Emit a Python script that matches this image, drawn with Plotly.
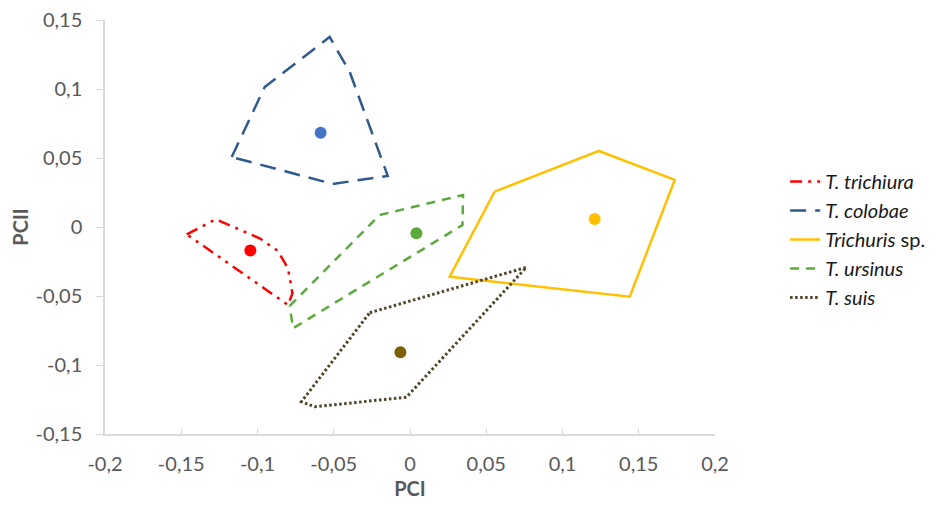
import plotly.graph_objects as go

# ---- data ----
trichiura_x = [-0.1464, -0.1274, -0.0986, -0.0866, -0.0800, -0.0771, -0.0800]
trichiura_y = [-0.0053, 0.0056, -0.0082, -0.0174, -0.0300, -0.0481, -0.0565]
trichiura_c = (-0.1047, -0.0171)

colobae_x = [-0.1169, -0.0953, -0.0527, -0.0395, -0.0146, -0.0507]
colobae_y = [0.0507, 0.1014, 0.1377, 0.1123, 0.0370, 0.0312]
colobae_c = (-0.0586, 0.0683)

sp_x = [0.0555, 0.1239, 0.1736, 0.1441, 0.0260]
sp_y = [0.0256, 0.0551, 0.0341, -0.0505, -0.0360]
sp_c = (0.1211, 0.0058)

ursinus_x = [-0.0789, -0.0199, 0.0348, 0.0344, -0.0767]
ursinus_y = [-0.0572, 0.0087, 0.0232, 0.0014, -0.0734]
ursinus_c = (0.0042, -0.0046)

suis_x = [-0.0264, 0.0763, -0.0024, -0.0625, -0.0712]
suis_y = [-0.0621, -0.0292, -0.1234, -0.1302, -0.1266]
suis_c = (-0.0063, -0.0908)

x_ticks = [-0.2, -0.15, -0.1, -0.05, 0, 0.05, 0.1, 0.15, 0.2]
x_labels = ["-0,2", "-0,15", "-0,1", "-0,05", "0", "0,05", "0,1", "0,15", "0,2"]
y_ticks = [-0.15, -0.1, -0.05, 0, 0.05, 0.1, 0.15]
y_labels = ["-0,15", "-0,1", "-0,05", "0", "0,05", "0,1", "0,15"]

series = [
    ("<i>T. trichiura</i>", trichiura_x, trichiura_y, trichiura_c, "#FF0000", "#FF0000", "12px,6px,3px,6px,3px,6px", 2.5),
    ("<i>T. colobae</i>", colobae_x, colobae_y, colobae_c, "#2F5A8C", "#4472C4", "16px,9px", 2.5),
    ("<i>Trichuris</i> sp.", sp_x, sp_y, sp_c, "#FFC000", "#FFC000", "solid", 2.5),
    ("<i>T. ursinus</i>", ursinus_x, ursinus_y, ursinus_c, "#5BAA3C", "#5BAA3C", "9px,7px", 2.5),
    ("<i>T. suis</i>", suis_x, suis_y, suis_c, "#4F4426", "#7F6000", "2.5px,2.5px", 3),
]

fig = go.Figure()
for name, xs, ys, c, lcol, mcol, dash, w in series:
    fig.add_trace(go.Scatter(
        x=list(xs) + [xs[0]], y=list(ys) + [ys[0]], mode="lines", name=name,
        line=dict(color=lcol, width=w, dash=dash),
    ))
for name, xs, ys, c, lcol, mcol, dash, w in series:
    fig.add_trace(go.Scatter(
        x=[c[0]], y=[c[1]], mode="markers", showlegend=False,
        marker=dict(color=mcol, size=12),
    ))

axis_font = dict(family="Lato", size=20, color="#595959")
title_font = dict(family="Lato", size=20, color="#595959")
# the page body adds an 8px offset, so the figure is 8px smaller than the window
fig.update_layout(
    width=938, height=500,
    margin=dict(l=97, r=231, t=12, b=74),
    paper_bgcolor="white", plot_bgcolor="white",
    font=dict(family="Lato"),
    showlegend=True,
    legend=dict(x=1.115, y=0.47, xanchor="left", yanchor="middle",
                font=dict(family="Lato", size=20, color="#1a1a1a"),
                tracegroupgap=0, itemwidth=30),
    xaxis=dict(range=[-0.2, 0.2], tickvals=x_ticks, ticktext=x_labels, automargin=False,
               showgrid=False, zeroline=False, showline=True, linecolor="#D9D9D9",
               linewidth=1.5, ticks="inside", ticklen=5, tickcolor="#D9D9D9",
               tickfont=axis_font, ticklabelstandoff=11, ticklabeloverflow="allow",
               title=dict(text="<b>PCI</b>", font=title_font, standoff=8)),
    yaxis=dict(range=[-0.15, 0.15], tickvals=y_ticks, ticktext=y_labels, automargin=False,
               showgrid=False, zeroline=False, showline=True, linecolor="#D9D9D9",
               linewidth=1.5, ticks="outside", ticklen=7, tickcolor="#D9D9D9",
               tickfont=axis_font, ticklabelstandoff=10, ticklabeloverflow="allow",
               title=dict(text="<b>PCII</b>", font=title_font, standoff=8)),
)

fig.write_html("out.html")
